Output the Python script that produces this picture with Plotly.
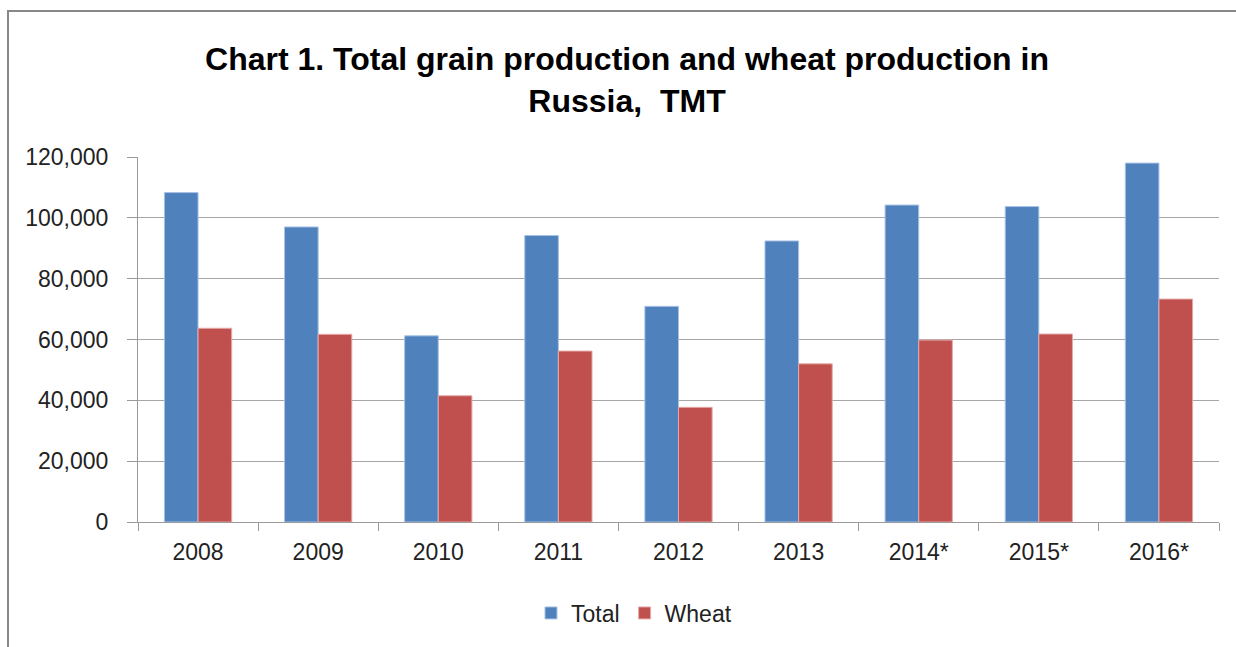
import plotly.graph_objects as go

years = ["2008", "2009", "2010", "2011", "2012", "2013", "2014*", "2015*", "2016*"]
total = [108300, 97000, 61200, 94200, 70900, 92400, 104200, 103700, 118000]
wheat = [63700, 61700, 41500, 56200, 37700, 52000, 59800, 61800, 73300]

W, H = 1236, 647
L, R, T, B = 138, 17, 157, 125
pw, ph = W - L - R, H - T - B

def px_x(x):
    return (x - L) / pw

def px_y(y):
    return (H - B - y) / ph

font_family = "Liberation Sans, Arial, sans-serif"

fig = go.Figure()
fig.add_trace(go.Bar(x=years, y=total, name="Total",
                     marker=dict(color="#4F81BD", line=dict(color="#A9C2E4", width=1))))
fig.add_trace(go.Bar(x=years, y=wheat, name="Wheat",
                     marker=dict(color="#C0504D", line=dict(color="#E4AAA8", width=1))))

fig.update_layout(
    width=W, height=H,
    margin=dict(l=L, r=R, t=T, b=B),
    paper_bgcolor="white", plot_bgcolor="white",
    barmode="group", bargap=0.44, bargroupgap=0,
    font=dict(family=font_family, color="#222222", size=23),
    title=dict(
        text="<b>Chart 1. Total grain production and wheat production in<br>Russia,  TMT</b>",
        x=px_x(627), xanchor="center", xref="paper",
        y=1 - 70 / H, yanchor="middle", yref="container",
        font=dict(family=font_family, size=32, color="black"),
    ),
    showlegend=True,
    legend=dict(orientation="h", x=px_x(634), xanchor="center",
                y=px_y(613), yanchor="middle",
                font=dict(size=23, color="#222222"), itemwidth=30,
                bgcolor="rgba(0,0,0,0)"),
    xaxis=dict(showgrid=False, showline=True, linecolor="#9A9A9A", linewidth=1,
               ticks="outside", tickson="boundaries", ticklen=8, tickcolor="#9A9A9A",
               ticklabelstandoff=9, tickfont=dict(size=23)),
    yaxis=dict(range=[0, 120000], dtick=20000, tickformat=",d",
               showgrid=True, gridcolor="#A6A6A6", gridwidth=1,
               showline=True, linecolor="#9A9A9A", linewidth=1,
               ticks="outside", ticklen=10, tickcolor="#9A9A9A",
               ticklabelstandoff=14, tickfont=dict(size=23), zeroline=False),
    shapes=[dict(type="rect", xref="paper", yref="paper",
                 x0=px_x(8), x1=px_x(1245), y0=px_y(660), y1=px_y(11),
                 line=dict(color="#888888", width=2), fillcolor="rgba(0,0,0,0)",
                 layer="below")],
)

fig.write_html("out.html")
